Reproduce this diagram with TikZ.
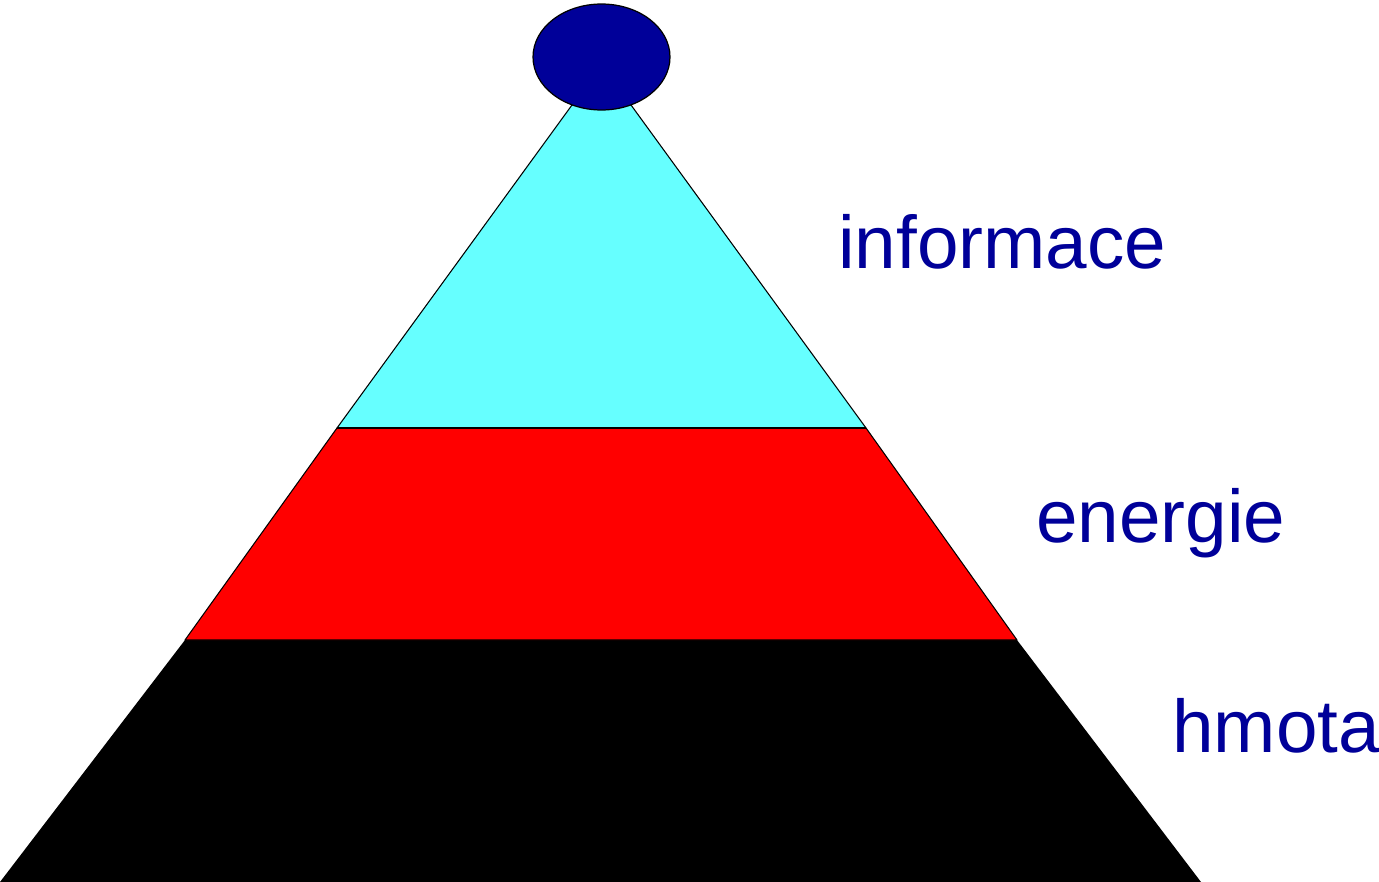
\documentclass[tikz,border=0pt]{standalone}
\usepackage{fontspec}
\setmainfont{Liberation Sans}
\usepackage{xcolor}
\usetikzlibrary{shapes.geometric}
\definecolor{labelblue}{RGB}{0,0,153}
\definecolor{infocyan}{RGB}{102,255,255}
\definecolor{energyred}{RGB}{255,0,0}

\begin{document}
\begin{tikzpicture}[
    x=0.02cm,y=-0.02cm,
    layer/.style={draw=black,line width=0.6pt,line join=round},
    level/.style={anchor=base west,inner sep=0pt,text=labelblue,
      font=\fontsize{42.5}{50}\selectfont}
  ]
    \useasboundingbox (0,0) rectangle (1379,882);

    % corners of the pyramid
    \coordinate (tl) at (572,105);
    \coordinate (tr) at (631,105);
    \coordinate (ml) at (337,428);
    \coordinate (mr) at (866,428);
    \coordinate (bl) at (185,640);
    \coordinate (br) at (1017,640);
    \coordinate (fl) at (0,882);
    \coordinate (fr) at (1201,882);

    \fill[black] (bl) -- (br) -- (fr) -- (fl) -- cycle;
    \filldraw[layer,fill=energyred] (ml) -- (mr) -- (br) -- (bl) -- cycle;
    \filldraw[layer,fill=infocyan] (tl) -- (tr) -- (mr) -- (ml) -- cycle;
    \draw[line width=1.1pt] (ml) -- (mr);

    \node[ellipse,draw=black,line width=0.7pt,fill=labelblue,inner sep=0pt,
      minimum width=2.74cm,minimum height=2.12cm] (apex) at (601.5,57) {};

    \node[level] (info) at (838,268) {informace};
    \node[level] (energy) at (1036,542) {energie};
    \node[level] (matter) at (1172,752) {hmota};
  \end{tikzpicture}
\end{document}
